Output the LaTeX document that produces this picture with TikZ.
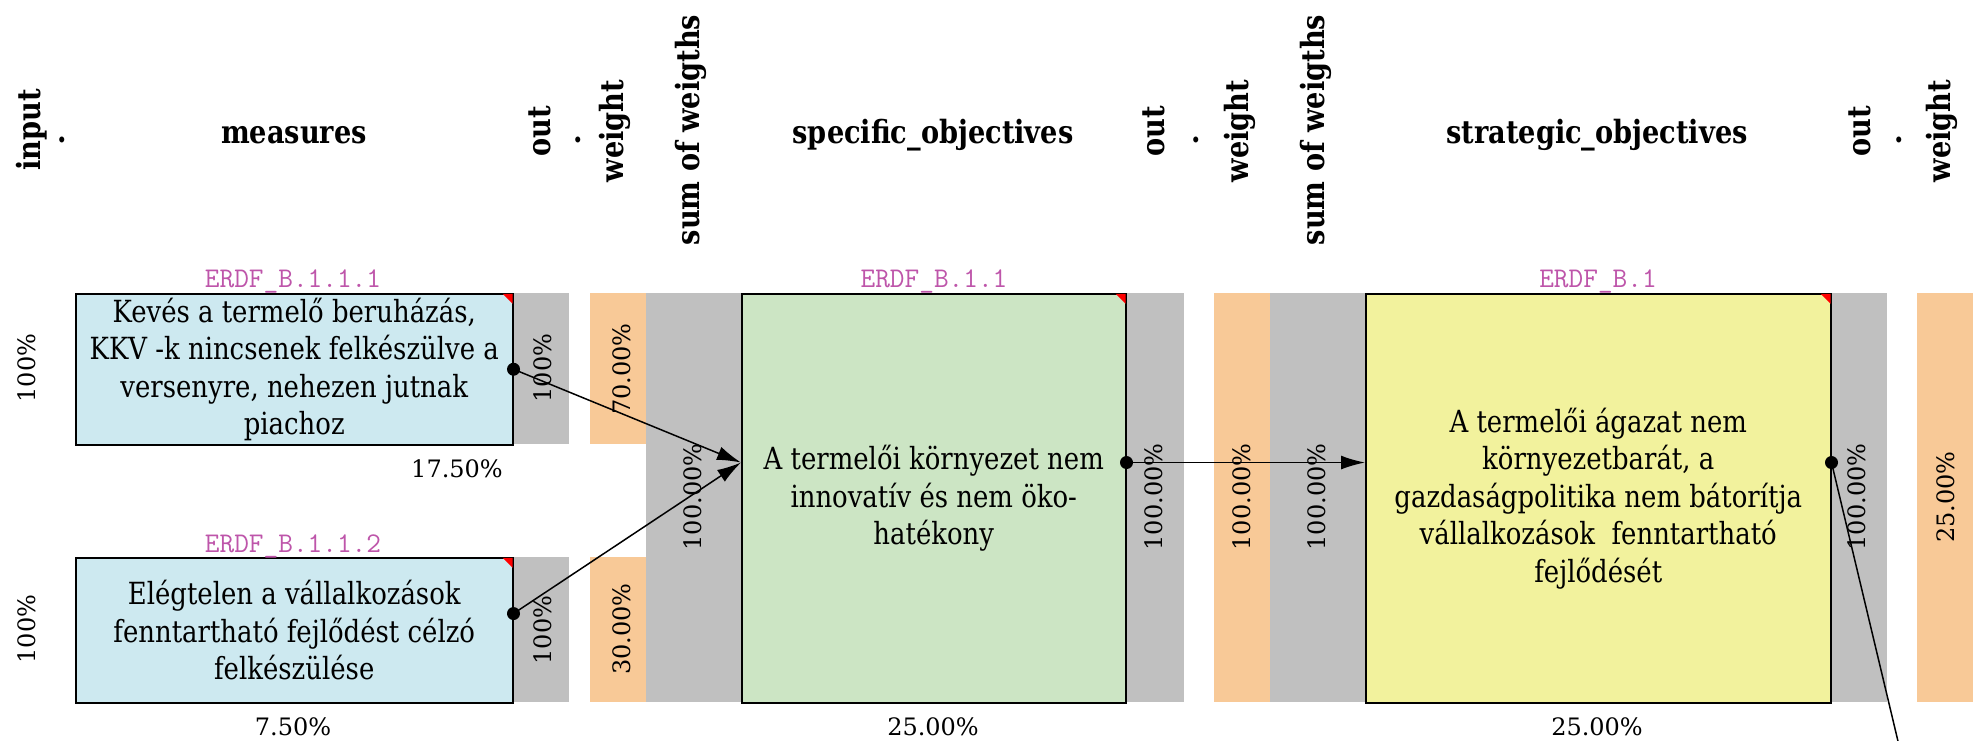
\documentclass[tikz,border=0pt]{standalone}
\usepackage{fontspec}
\setmainfont{DejaVu Serif}[FakeStretch=0.85]
\newfontfamily\pctfont{DejaVu Serif}
\usetikzlibrary{arrows.meta,calc}
\definecolor{boxblue}{RGB}{205,233,240}
\definecolor{boxgreen}{RGB}{204,229,196}
\definecolor{boxyellow}{RGB}{242,242,157}
\definecolor{colgray}{RGB}{192,192,192}
\definecolor{colorange}{RGB}{248,201,151}
\definecolor{codepink}{RGB}{190,85,170}
\tikzset{
  hdr/.style={font=\fontsize{32}{38}\selectfont\bfseries, inner sep=0pt},
  vhdr/.style={hdr, rotate=90},
  pct/.style={font=\pctfont\fontsize{24}{28}\selectfont, inner sep=0pt},
  vpct/.style={pct, rotate=90},
  code/.style={font=\ttfamily\fontsize{28.5}{34}\selectfont, text=codepink, inner sep=0pt},
  colg/.style={fill=colgray},
  colo/.style={fill=colorange},
  item/.style={draw=black, line width=1.5pt, align=center, inner sep=0pt,
    anchor=north west, font=\fontsize{30.5}{37.5}\selectfont},
  link/.style={line width=1.5pt, draw=black, -{Latex[length=24pt,width=14pt]}},
  portdot/.style={fill=black},
  corner/.style={fill=red},
}
\begin{document}
\begin{tikzpicture}[x=1pt,y=-1pt]
\path[use as bounding box] (0,0) rectangle (1975,741);
\clip (0,0) rectangle (1975,741);
\fill[white] (0,0) rectangle (1975,741);

% headers
\node[vhdr] (h-input) at (32,130) {input};
\node[hdr] (h-dot1) at (62,140) {.};
\node[hdr, anchor=base] (h-measures) at (294,143) {measures};
\node[vhdr] (h-out1) at (540,131) {out};
\node[hdr] (h-dot2) at (578,140) {.};
\node[vhdr] (h-w1) at (615,131) {weight};
\node[vhdr] (h-s1) at (691,130) {sum of weigths};
\node[hdr, anchor=base] (h-spec) at (933,143) {specific\_objectives};
\node[vhdr] (h-out2) at (1154,131) {out};
\node[hdr] (h-dot3) at (1196,140) {.};
\node[vhdr] (h-w2) at (1240,131) {weight};
\node[vhdr] (h-s2) at (1316,130) {sum of weigths};
\node[hdr, anchor=base] (h-strat) at (1597,143) {strategic\_objectives};
\node[vhdr] (h-out3) at (1860,131) {out};
\node[hdr] (h-dot4) at (1899,140) {.};
\node[vhdr] (h-w3) at (1942,131) {weight};

% columns
\fill[colg] (512,293) rectangle (569,444);
\fill[colo] (590,293) rectangle (646,444);
\fill[colg] (512,557) rectangle (569,702);
\fill[colo] (590,557) rectangle (646,702);
\fill[colg] (646,293) rectangle (741,702);
\fill[colg] (1125,293) rectangle (1184,702);
\fill[colo] (1214,293) rectangle (1270,702);
\fill[colg] (1270,293) rectangle (1365,702);
\fill[colg] (1830,293) rectangle (1887,702);
\fill[colo] (1917,293) rectangle (1973,702);

% boxes
\node[item, fill=boxblue, minimum width=437pt, minimum height=151pt] (m1) at (75,293)
  {Kevés a termelő beruházás,\\KKV -k nincsenek felkészülve a\\versenyre, nehezen jutnak\\piachoz};
\node[item, fill=boxblue, minimum width=437pt, minimum height=145pt] (m2) at (75,557)
  {Elégtelen a vállalkozások\\fenntartható fejlődést célzó\\felkészülése};
\node[item, fill=boxgreen, minimum width=384pt, minimum height=409pt] (so1) at (741,293)
  {A termelői környezet nem\\innovatív és nem öko-\\hatékony};
\node[item, fill=boxyellow, minimum width=465pt, minimum height=409pt] (st1) at (1365,293)
  {A termelői ágazat nem\\környezetbarát, a\\gazdaságpolitika nem bátorítja\\vállalkozások\ \ fenntartható\\fejlődését};

\foreach \b in {m1,m2,so1,st1}{
  \fill[corner] ($(\b.north east)+(-0.8,0.8)$) -- ++(-10,0) -- ++(10,10) -- cycle;
}

% codes
\node[code, anchor=base] (c-m1) at (293,287) {ERDF\_B.1.1.1};
\node[code, anchor=base] (c-m2) at (293,552) {ERDF\_B.1.1.2};
\node[code, anchor=base] (c-so1) at (934,287) {ERDF\_B.1.1};
\node[code, anchor=base] (c-st1) at (1598,287) {ERDF\_B.1};

% percentages
\node[vpct] (in-m1) at (27,368) {100\%};
\node[vpct] (in-m2) at (27,629) {100\%};
\node[vpct] (out-m1) at (543,368) {100\%};
\node[vpct] (out-m2) at (543,630) {100\%};
\node[vpct] (w-m1) at (622,369) {70.00\%};
\node[vpct] (w-m2) at (622,629) {30.00\%};
\node[vpct] (s-so1) at (693,497) {100.00\%};
\node[vpct] (out-so1) at (1154,497) {100.00\%};
\node[vpct] (w-so1) at (1242,497) {100.00\%};
\node[vpct] (s-st1) at (1317,497) {100.00\%};
\node[vpct] (out-st1) at (1857,497) {100.00\%};
\node[vpct] (w-st1) at (1946,497) {25.00\%};
\node[pct, anchor=base] (v-m1) at (457,477) {17.50\%};
\node[pct, anchor=base] (v-m2) at (293,735) {7.50\%};
\node[pct, anchor=base] (v-so1) at (933,735) {25.00\%};
\node[pct, anchor=base] (v-st1) at (1597,735) {25.00\%};

% ports
\coordinate (m2-o) at ($(m2.north east)!0.386!(m2.south east)$);
\coordinate (so1-i) at ($(so1.north west)!0.413!(so1.south west)$);
\coordinate (so1-o) at ($(so1.north east)!0.413!(so1.south east)$);
\coordinate (st1-i) at ($(st1.north west)!0.413!(st1.south west)$);
\coordinate (st1-o) at ($(st1.north east)!0.413!(st1.south east)$);
\coordinate (next) at (1912,800);

% connectors
\draw[link] (m1.east) -- (so1-i);
\draw[link] (m2-o) -- (so1-i);
\draw[link] (so1-o) -- (st1-i);
\draw[link] (st1-o) -- (next);
\foreach \p in {m1.east,m2-o,so1-o,st1-o}{
  \fill[portdot] (\p) circle[radius=6.5pt];
}
\end{tikzpicture}
\end{document}
